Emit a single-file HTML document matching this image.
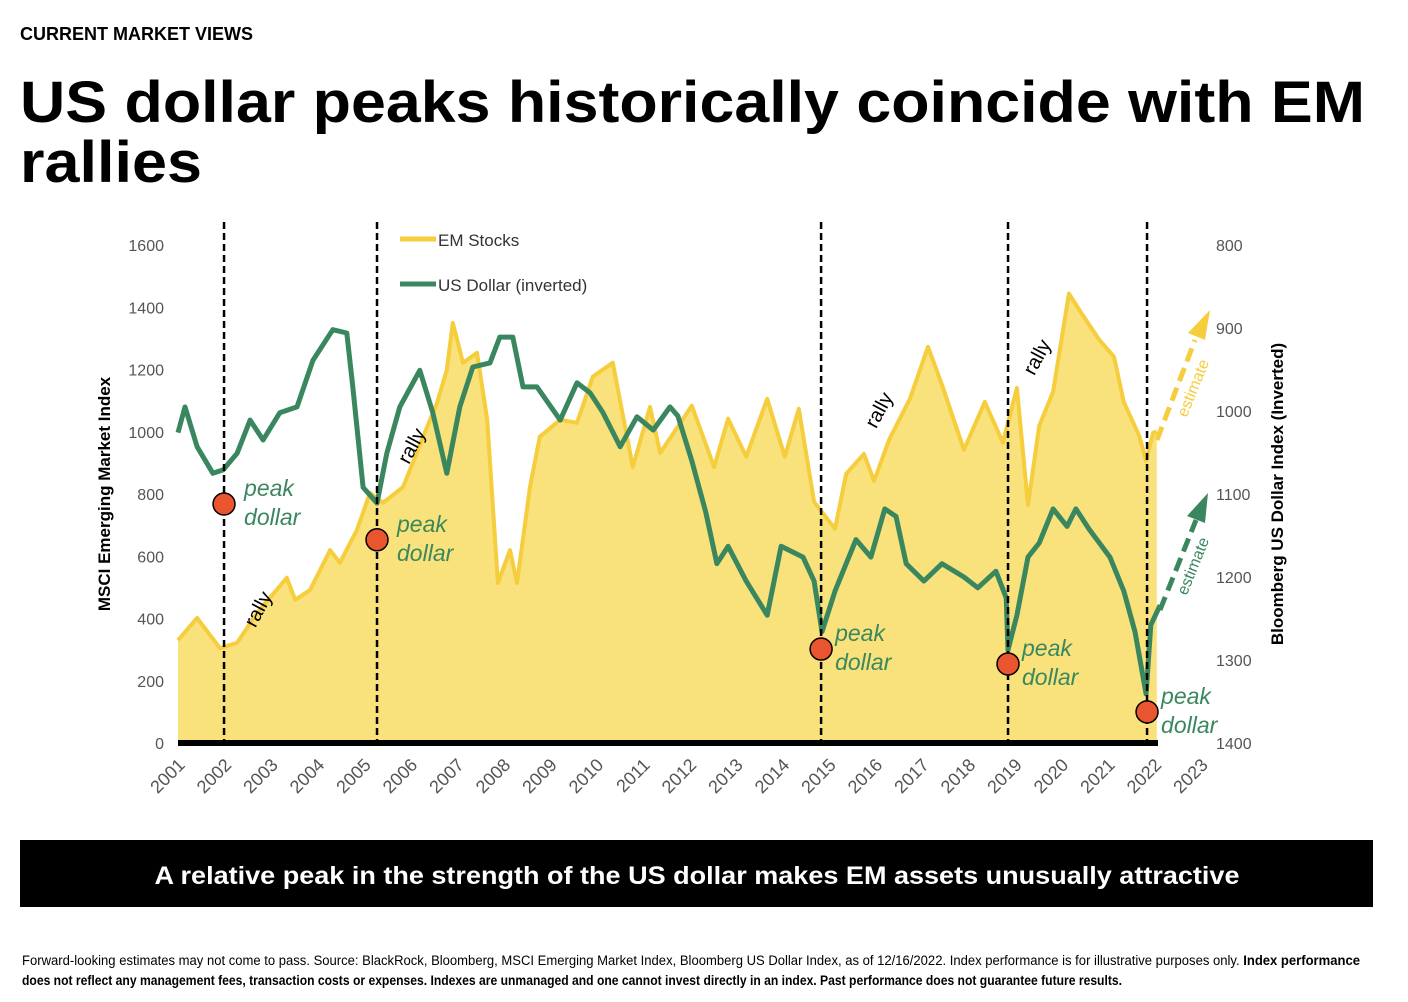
<!DOCTYPE html>
<html><head><meta charset="utf-8"><style>
body{margin:0;background:#fff;}
svg{display:block;font-family:"Liberation Sans",sans-serif;}
</style></head><body>
<svg id="chart" width="1408" height="1002" viewBox="0 0 1408 1002">
<text x="20" y="40" font-size="18" font-weight="bold" fill="#000">CURRENT MARKET VIEWS</text>
<text x="20" y="122" font-size="58" font-weight="900" fill="#000" textLength="1345" lengthAdjust="spacingAndGlyphs">US dollar peaks historically coincide with EM</text>
<text x="20" y="182" font-size="58" font-weight="900" fill="#000" textLength="182" lengthAdjust="spacingAndGlyphs">rallies</text>
<g id="plot"></g>
<rect x="20" y="840" width="1353" height="67" fill="#000"/>
<text x="697" y="884" font-size="25" font-weight="bold" fill="#fff" text-anchor="middle" textLength="1085" lengthAdjust="spacingAndGlyphs">A relative peak in the strength of the US dollar makes EM assets unusually attractive</text>
<text x="22" y="965" font-size="13.5" fill="#000" textLength="1338" lengthAdjust="spacingAndGlyphs">Forward-looking estimates may not come to pass. Source: BlackRock, Bloomberg, MSCI Emerging Market Index, Bloomberg US Dollar Index, as of 12/16/2022. Index performance is for illustrative purposes only.  <tspan font-weight="bold">Index performance</tspan></text>
<text x="22" y="985" font-size="13.5" font-weight="bold" fill="#000" textLength="1100" lengthAdjust="spacingAndGlyphs">does not reflect any management fees, transaction costs or expenses. Indexes are unmanaged and one cannot invest directly in an index. Past performance does not guarantee future results.</text>
</svg>
<script>
const emYears=[2001.00,2001.41,2001.90,2002.27,2002.70,2003.34,2003.52,2003.84,2004.27,2004.48,2004.85,2005.13,2005.41,2005.84,2006.27,2006.57,2006.78,2006.91,2007.13,2007.43,2007.65,2007.88,2008.14,2008.29,2008.57,2008.78,2009.22,2009.58,2009.92,2010.35,2010.78,2011.15,2011.37,2012.05,2012.53,2012.83,2013.22,2013.67,2014.05,2014.35,2014.68,2015.13,2015.37,2015.75,2015.97,2016.29,2016.74,2017.13,2017.43,2017.90,2018.35,2018.74,2019.04,2019.28,2019.52,2019.82,2020.16,2020.42,2020.81,2021.13,2021.34,2021.67,2021.82,2021.97,2022.05];
const emValues=[330,402,305,322,418,531,460,492,620,579,685,804,772,823,984,1093,1199,1350,1222,1254,1039,514,620,514,823,984,1039,1029,1177,1222,887,1080,932,1084,887,1042,920,1106,920,1074,775,688,865,929,842,974,1106,1273,1151,942,1096,965,1141,765,1019,1129,1444,1383,1296,1241,1096,987,907,997,1000];
const usdYears=[2001.00,2001.15,2001.41,2001.75,2001.97,2002.27,2002.55,2002.83,2003.19,2003.56,2003.90,2004.33,2004.63,2004.76,2004.98,2005.28,2005.49,2005.77,2006.20,2006.48,2006.78,2007.06,2007.34,2007.71,2007.92,2008.20,2008.42,2008.72,2009.22,2009.58,2009.86,2010.14,2010.51,2010.87,2011.22,2011.58,2011.75,2012.05,2012.35,2012.59,2012.83,2013.22,2013.67,2013.97,2014.44,2014.68,2014.85,2015.13,2015.58,2015.90,2016.20,2016.44,2016.66,2017.04,2017.43,2017.90,2018.20,2018.59,2018.81,2018.85,2019.04,2019.28,2019.52,2019.82,2020.12,2020.31,2020.59,2021.04,2021.34,2021.58,2021.82,2021.92,2022.12];
const usdValues=[1026,995,1043,1075,1071,1051,1011,1035,1002,995,939,902,906,971,1092,1111,1051,995,951,1002,1075,995,947,942,911,911,971,971,1011,966,978,1002,1043,1007,1023,995,1006,1060,1122,1184,1163,1205,1246,1163,1176,1205,1266,1217,1155,1176,1118,1127,1184,1205,1184,1200,1213,1193,1225,1288,1246,1176,1159,1118,1139,1118,1142,1176,1217,1266,1341,1258,1234];
const peakYears=[2001.99,2005.28,2014.83,2018.85,2021.84];
const peakEmValues=[768,653,302,254,100];
const leftTicks=[0,200,400,600,800,1000,1200,1400,1600];
const rightTicks=[800,900,1000,1100,1200,1300,1400];
const xTickYears=[2001,2002,2003,2004,2005,2006,2007,2008,2009,2010,2011,2012,2013,2014,2015,2016,2017,2018,2019,2020,2021,2022,2023];
const rallyLabels=[[2002.85,420],[2006.15,945],[2016.2,1060],[2019.6,1230]];

const X=y=>178+(y-2001)*46.5;
const YL=v=>743-v*0.3112;
const YR=v=>245+(v-800)*0.83;
const NS='http://www.w3.org/2000/svg';
const plot=document.getElementById('plot');
function mk(tag,attrs,parent){const e=document.createElementNS(NS,tag);for(const k in attrs)e.setAttribute(k,attrs[k]);(parent||plot).appendChild(e);return e;}

let d='M'+X(emYears[0])+','+YL(0);
emYears.forEach((y,i)=>{d+=' L'+X(y).toFixed(1)+','+YL(emValues[i]).toFixed(1);});
d+=' L'+X(emYears[emYears.length-1]).toFixed(1)+','+YL(0)+' Z';
const area=mk('path',{d:d,fill:'#f9e27c'});


let dl='';
emYears.forEach((y,i)=>{dl+=(i?' L':'M')+X(y).toFixed(1)+','+YL(emValues[i]).toFixed(1);});
const emLine=mk('path',{d:dl,fill:'none',stroke:'#f5cd3d','stroke-width':4,'stroke-linejoin':'round'});


let du='';
usdYears.forEach((y,i)=>{du+=(i?' L':'M')+X(y).toFixed(1)+','+YR(usdValues[i]).toFixed(1);});
const usdLine=mk('path',{d:du,fill:'none',stroke:'#3a875f','stroke-width':5,'stroke-linejoin':'round'});



const ea=mk('path',{d:'M1157,440 L1195,340',stroke:'#f5cd3d','stroke-width':5,'stroke-dasharray':'14,7',fill:'none'});


const eh=mk('path',{d:'M1210,310 L1188,333 L1205,340 Z',fill:'#f5cd3d'});


const ua=mk('path',{d:'M1160,610 L1196,520',stroke:'#3a875f','stroke-width':5,'stroke-dasharray':'14,7',fill:'none'});


const uh=mk('path',{d:'M1208,493 L1187,516 L1205,523 Z',fill:'#3a875f'});


const et1=mk('text',{x:1198,y:390,'font-size':16,fill:'#f5cd3d',transform:'rotate(-68 1198 390)','text-anchor':'middle'});
et1.textContent='estimate';


const et2=mk('text',{x:1198,y:568,'font-size':16,fill:'#3a875f',transform:'rotate(-68 1198 568)','text-anchor':'middle'});
et2.textContent='estimate';



peakYears.forEach((y,i)=>{
  const ln=mk('line',{x1:X(y),x2:X(y),y1:222,y2:743,stroke:'#000','stroke-width':2.5,'stroke-dasharray':'7,4'});
  
  
});
peakYears.forEach((y,i)=>{
  const c=mk('circle',{cx:X(y),cy:YL(peakEmValues[i]),r:11,fill:'#e8552f',stroke:'#000','stroke-width':1.5});
  
  
  const t=mk('text',{x:X(y)+(i<2?20:14),y:YL(peakEmValues[i])-8,'font-size':23,'font-style':'italic',fill:'#3a875f'});
  
  
  const a=mk('tspan',{x:X(y)+(i<2?20:14),dy:0},t);a.textContent='peak';
  const b=mk('tspan',{x:X(y)+(i<2?20:14),dy:29},t);b.textContent='dollar';
});
rallyLabels.forEach(r=>{
  const t=mk('text',{x:X(r[0]),y:YL(r[1]),'font-size':20,fill:'#000',transform:'rotate(-62 '+X(r[0])+' '+YL(r[1])+')','text-anchor':'middle'});
  t.textContent='rally';
  
  
});

const ax=mk('line',{x1:178,x2:1158,y1:743,y2:743,stroke:'#000','stroke-width':6});


leftTicks.forEach(v=>{
  const t=mk('text',{x:164,y:YL(v)+6,'font-size':16,fill:'#555','text-anchor':'end'});
  t.textContent=v;
  
  
});
rightTicks.forEach(v=>{
  const t=mk('text',{x:1216,y:YR(v)+6,'font-size':16,fill:'#555'});
  t.textContent=v;
  
  
});
xTickYears.forEach(y=>{
  const x=X(y)+8,yy=766;
  const t=mk('text',{x:x,y:yy,'font-size':18,fill:'#555','text-anchor':'end',transform:'rotate(-45 '+x+' '+yy+')'});
  t.textContent=y;
  
  
});
const lt=mk('text',{x:110,y:494,'font-size':17,'font-weight':'bold',fill:'#000','text-anchor':'middle',transform:'rotate(-90 110 494)'});
lt.textContent='MSCI Emerging Market Index';


const rt=mk('text',{x:1283,y:494,'font-size':17,'font-weight':'bold',fill:'#000','text-anchor':'middle',transform:'rotate(-90 1283 494)'});
rt.textContent='Bloomberg US Dollar Index (Inverted)';



const l1=mk('line',{x1:400,x2:436,y1:239,y2:239,stroke:'#f5cd3d','stroke-width':5});


const l1t=mk('text',{x:438,y:246,'font-size':17,fill:'#333'});
l1t.textContent='EM Stocks';


const l2=mk('line',{x1:400,x2:436,y1:284,y2:284,stroke:'#3a875f','stroke-width':5});


const l2t=mk('text',{x:438,y:291,'font-size':17,fill:'#333'});
l2t.textContent='US Dollar (inverted)';


</script>
</body></html>
